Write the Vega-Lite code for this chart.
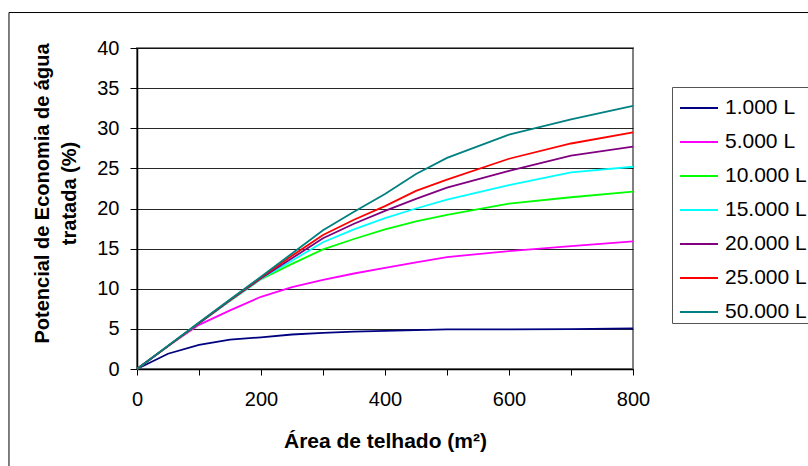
{
  "$schema": "https://vega.github.io/schema/vega-lite/v6.json",
  "width": 496,
  "height": 321,
  "autosize": {"type": "none"},
  "padding": {"left": 137, "top": 48, "right": 175, "bottom": 97},
  "background": "white",
  "config": {
    "view": {"stroke": "#808080", "strokeWidth": 2},
    "font": "Liberation Sans"
  },
  "layer": [
    {
      "data": {"values": [{"frame": "outer"}]},
      "mark": {"type": "rect", "filled": false, "stroke": "#000000", "strokeWidth": 1, "clip": false},
      "encoding": {
        "x": {"datum": -206.5, "type": "quantitative"},
        "x2": {"datum": 1300},
        "y": {"datum": 44.42, "type": "quantitative"},
        "y2": {"datum": -30}
      }
    },
    {
      "data": {"values": [
        {"s": "1.000 L", "x": 0, "y": 0}, {"s": "1.000 L", "x": 50, "y": 1.9}, {"s": "1.000 L", "x": 100, "y": 3.0}, {"s": "1.000 L", "x": 150, "y": 3.65}, {"s": "1.000 L", "x": 200, "y": 3.95}, {"s": "1.000 L", "x": 250, "y": 4.3}, {"s": "1.000 L", "x": 300, "y": 4.5}, {"s": "1.000 L", "x": 350, "y": 4.65}, {"s": "1.000 L", "x": 400, "y": 4.75}, {"s": "1.000 L", "x": 450, "y": 4.85}, {"s": "1.000 L", "x": 500, "y": 4.95}, {"s": "1.000 L", "x": 600, "y": 4.95}, {"s": "1.000 L", "x": 700, "y": 4.97}, {"s": "1.000 L", "x": 800, "y": 5.05},
        {"s": "5.000 L", "x": 0, "y": 0}, {"s": "5.000 L", "x": 50, "y": 2.85}, {"s": "5.000 L", "x": 100, "y": 5.5}, {"s": "5.000 L", "x": 150, "y": 7.3}, {"s": "5.000 L", "x": 200, "y": 9.0}, {"s": "5.000 L", "x": 250, "y": 10.2}, {"s": "5.000 L", "x": 300, "y": 11.1}, {"s": "5.000 L", "x": 350, "y": 11.9}, {"s": "5.000 L", "x": 400, "y": 12.6}, {"s": "5.000 L", "x": 450, "y": 13.3}, {"s": "5.000 L", "x": 500, "y": 13.95}, {"s": "5.000 L", "x": 600, "y": 14.7}, {"s": "5.000 L", "x": 700, "y": 15.3}, {"s": "5.000 L", "x": 800, "y": 15.9},
        {"s": "10.000 L", "x": 0, "y": 0}, {"s": "10.000 L", "x": 50, "y": 2.85}, {"s": "10.000 L", "x": 100, "y": 5.7}, {"s": "10.000 L", "x": 150, "y": 8.5}, {"s": "10.000 L", "x": 200, "y": 11.2}, {"s": "10.000 L", "x": 250, "y": 13.1}, {"s": "10.000 L", "x": 300, "y": 14.9}, {"s": "10.000 L", "x": 350, "y": 16.2}, {"s": "10.000 L", "x": 400, "y": 17.4}, {"s": "10.000 L", "x": 450, "y": 18.4}, {"s": "10.000 L", "x": 500, "y": 19.2}, {"s": "10.000 L", "x": 600, "y": 20.6}, {"s": "10.000 L", "x": 700, "y": 21.4}, {"s": "10.000 L", "x": 800, "y": 22.1},
        {"s": "15.000 L", "x": 0, "y": 0}, {"s": "15.000 L", "x": 50, "y": 2.85}, {"s": "15.000 L", "x": 100, "y": 5.7}, {"s": "15.000 L", "x": 150, "y": 8.5}, {"s": "15.000 L", "x": 200, "y": 11.25}, {"s": "15.000 L", "x": 250, "y": 13.5}, {"s": "15.000 L", "x": 300, "y": 15.8}, {"s": "15.000 L", "x": 350, "y": 17.4}, {"s": "15.000 L", "x": 400, "y": 18.8}, {"s": "15.000 L", "x": 450, "y": 20.0}, {"s": "15.000 L", "x": 500, "y": 21.1}, {"s": "15.000 L", "x": 600, "y": 22.9}, {"s": "15.000 L", "x": 700, "y": 24.5}, {"s": "15.000 L", "x": 800, "y": 25.2},
        {"s": "20.000 L", "x": 0, "y": 0}, {"s": "20.000 L", "x": 50, "y": 2.85}, {"s": "20.000 L", "x": 100, "y": 5.7}, {"s": "20.000 L", "x": 150, "y": 8.55}, {"s": "20.000 L", "x": 200, "y": 11.3}, {"s": "20.000 L", "x": 250, "y": 13.8}, {"s": "20.000 L", "x": 300, "y": 16.3}, {"s": "20.000 L", "x": 350, "y": 18.1}, {"s": "20.000 L", "x": 400, "y": 19.7}, {"s": "20.000 L", "x": 450, "y": 21.2}, {"s": "20.000 L", "x": 500, "y": 22.6}, {"s": "20.000 L", "x": 600, "y": 24.7}, {"s": "20.000 L", "x": 700, "y": 26.6}, {"s": "20.000 L", "x": 800, "y": 27.7},
        {"s": "25.000 L", "x": 0, "y": 0}, {"s": "25.000 L", "x": 50, "y": 2.85}, {"s": "25.000 L", "x": 100, "y": 5.75}, {"s": "25.000 L", "x": 150, "y": 8.6}, {"s": "25.000 L", "x": 200, "y": 11.4}, {"s": "25.000 L", "x": 250, "y": 14.1}, {"s": "25.000 L", "x": 300, "y": 16.7}, {"s": "25.000 L", "x": 350, "y": 18.6}, {"s": "25.000 L", "x": 400, "y": 20.3}, {"s": "25.000 L", "x": 450, "y": 22.2}, {"s": "25.000 L", "x": 500, "y": 23.6}, {"s": "25.000 L", "x": 600, "y": 26.2}, {"s": "25.000 L", "x": 700, "y": 28.1}, {"s": "25.000 L", "x": 800, "y": 29.5},
        {"s": "50.000 L", "x": 0, "y": 0}, {"s": "50.000 L", "x": 50, "y": 2.9}, {"s": "50.000 L", "x": 100, "y": 5.8}, {"s": "50.000 L", "x": 150, "y": 8.65}, {"s": "50.000 L", "x": 200, "y": 11.5}, {"s": "50.000 L", "x": 250, "y": 14.4}, {"s": "50.000 L", "x": 300, "y": 17.3}, {"s": "50.000 L", "x": 350, "y": 19.6}, {"s": "50.000 L", "x": 400, "y": 21.8}, {"s": "50.000 L", "x": 450, "y": 24.3}, {"s": "50.000 L", "x": 500, "y": 26.3}, {"s": "50.000 L", "x": 600, "y": 29.2}, {"s": "50.000 L", "x": 700, "y": 31.1}, {"s": "50.000 L", "x": 800, "y": 32.8}
      ]},
      "mark": {"type": "line", "strokeWidth": 1.8, "interpolate": "linear"},
      "encoding": {
        "x": {
          "field": "x", "type": "quantitative",
          "scale": {"domain": [0, 800], "nice": false, "zero": false},
          "axis": {
            "values": [0, 100, 200, 300, 400, 500, 600, 700, 800],
            "labelExpr": "datum.value % 200 == 0 ? datum.label : ''",
            "grid": false,
            "domainColor": "#000000", "domainWidth": 1.5,
            "tickColor": "#000000", "tickSize": 6, "tickWidth": 1,
            "labelFont": "Liberation Sans", "labelFontSize": 20, "labelColor": "#000000",
            "labelPadding": 14, "labelFlush": false, "labelOverlap": false,
            "title": "Área de telhado (m²)",
            "titleFont": "Liberation Sans", "titleFontSize": 21, "titleFontWeight": "bold", "titleColor": "#000000",
            "titleBaseline": "top", "titleY": 61
          }
        },
        "y": {
          "field": "y", "type": "quantitative",
          "scale": {"domain": [0, 40], "nice": false, "zero": false},
          "axis": {
            "values": [0, 5, 10, 15, 20, 25, 30, 35, 40],
            "grid": true, "gridColor": "#000000", "gridWidth": 1, "gridOpacity": 0.85,
            "domainColor": "#000000", "domainWidth": 1.5,
            "tickColor": "#000000", "tickSize": 7, "tickWidth": 1,
            "labelFont": "Liberation Sans", "labelFontSize": 20, "labelColor": "#000000",
            "labelPadding": 11, "labelFlush": false, "labelOverlap": false,
            "title": ["Potencial de Economia de água", "tratada (%)"],
            "titleFont": "Liberation Sans", "titleFontSize": 20, "titleFontWeight": "bold", "titleColor": "#000000",
            "titleLineHeight": 27, "titleAngle": -90, "titleBaseline": "bottom", "titleAlign": "center",
            "titleX": -85, "titleY": 145
          }
        },
        "color": {
          "field": "s", "type": "nominal",
          "scale": {
            "domain": ["1.000 L", "5.000 L", "10.000 L", "15.000 L", "20.000 L", "25.000 L", "50.000 L"],
            "range": ["#000080", "#FF00FF", "#00FF00", "#00FFFF", "#800080", "#FF0000", "#008080"]
          },
          "legend": {
            "orient": "none", "legendX": 535, "legendY": 39,
            "title": null,
            "strokeColor": "#555555", "fillColor": "#FFFFFF", "padding": 1,
            "symbolType": "stroke", "symbolSize": 1444, "symbolStrokeWidth": 2, "symbolOffset": 6,
            "labelFont": "Liberation Sans", "labelFontSize": 21, "labelColor": "#000000",
            "labelExpr": "datum.label + '\u00a0\u00a0\u00a0\u00a0\u00a0\u00a0'",
            "labelOffset": 6, "rowPadding": 4, "labelLimit": 400
          }
        }
      }
    }
  ]
}
